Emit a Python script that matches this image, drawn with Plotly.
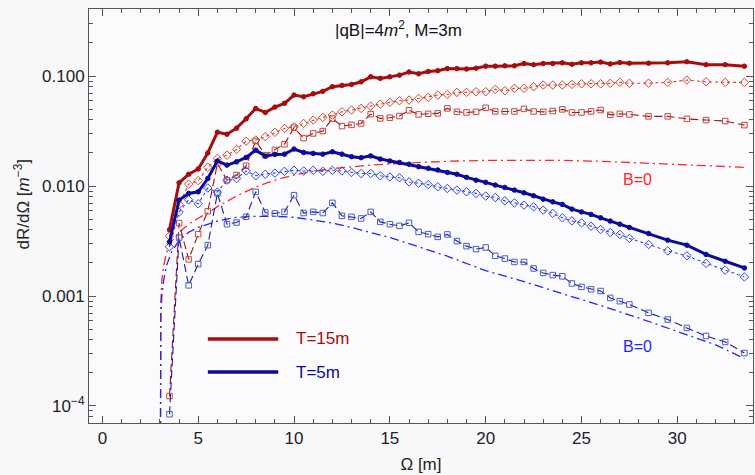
import plotly.graph_objects as go

# ---------------- data ----------------
omega = [3.5, 4.0, 4.5, 5.0, 5.5, 6.0, 6.5, 7.0, 7.5, 8.0, 8.5, 9.0, 9.5, 10.0, 10.5,
         11.0, 11.5, 12.0, 12.5, 13.0, 13.5, 14.0, 14.5, 15.0, 15.5, 16.0, 16.5, 17.0,
         17.5, 18.0, 18.5, 19.0, 19.5, 20.0, 20.5, 21.0, 21.5, 22.0, 22.5, 23.0, 23.5,
         24.0, 24.5, 25.0, 25.5, 26.0, 26.5, 27.0, 27.5, 28.5, 29.5, 30.5, 31.5, 32.5, 33.5]

t15_total = [0.0040, 0.0107, 0.0128, 0.0143, 0.0200, 0.0309, 0.0296, 0.0336, 0.0409, 0.0508,
             0.0467, 0.0522, 0.0565, 0.0672, 0.0648, 0.0690, 0.0726, 0.0800, 0.0823, 0.0840,
             0.0887, 0.0985, 0.0953, 0.0985, 0.102, 0.109, 0.105, 0.110, 0.112, 0.117,
             0.117, 0.116, 0.118, 0.123, 0.123, 0.124, 0.124, 0.130, 0.127, 0.130,
             0.130, 0.132, 0.128, 0.132, 0.132, 0.134, 0.129, 0.133, 0.131,
             0.131, 0.132, 0.135, 0.127, 0.127, 0.123]
t15_diam = [0.0035, 0.0068, 0.0104, 0.0112, 0.0148, 0.0178, 0.0191, 0.0215, 0.0256, 0.0262,
            0.0281, 0.0308, 0.0334, 0.0346, 0.0371, 0.0398, 0.0421, 0.0442, 0.0473, 0.0491,
            0.0508, 0.0533, 0.0556, 0.0577, 0.0596, 0.0605, 0.0627, 0.0640, 0.0672, 0.0681,
            0.0711, 0.0711, 0.0720, 0.0720, 0.0757, 0.0735, 0.0773, 0.0773, 0.0799, 0.0828,
            0.0828, 0.0828, 0.0840, 0.0851, 0.0851, 0.0851, 0.0859, 0.0877, 0.0859,
            0.0863, 0.0877, 0.0920, 0.0888, 0.0877, 0.0877]
t15_sq = [0.000123, 0.0046, 0.00215, 0.00365, 0.0059, 0.0160, 0.0113, 0.0126, 0.0153, 0.0257,
          0.0191, 0.0213, 0.0240, 0.0339, 0.0273, 0.0301, 0.0316, 0.0410, 0.0351, 0.0360,
          0.0371, 0.0451, 0.0412, 0.0418, 0.0433, 0.0488, 0.0448, 0.0454, 0.0458, 0.0508,
          0.0473, 0.0467, 0.0473, 0.0515, 0.0477, 0.0477, 0.0477, 0.0503, 0.0477, 0.0473,
          0.0481, 0.0498, 0.0467, 0.0467, 0.0477, 0.0491, 0.0444, 0.0454, 0.0448,
          0.0430, 0.0430, 0.0408, 0.0398, 0.0390, 0.0358]
t5_total = [0.0031, 0.00745, 0.00857, 0.00886, 0.0117, 0.0169, 0.0155, 0.0166, 0.0182, 0.0212,
            0.0187, 0.0194, 0.0195, 0.0217, 0.0202, 0.0198, 0.0195, 0.0205, 0.0195, 0.0185,
            0.0181, 0.0188, 0.0176, 0.0169, 0.0164, 0.0158, 0.0150, 0.0145, 0.0140, 0.0133,
            0.0128, 0.0120, 0.0113, 0.0108, 0.0102, 0.00971, 0.00918, 0.00868, 0.00815, 0.00760,
            0.00718, 0.00680, 0.00617, 0.00582, 0.00552, 0.00514, 0.00480, 0.00450, 0.00420,
            0.00370, 0.00322, 0.00290, 0.00239, 0.00207, 0.00180]
t5_diam = [0.0028, 0.0058, 0.0075, 0.0069, 0.0096, 0.0088, 0.0113, 0.0117, 0.0137, 0.0124,
           0.0128, 0.0131, 0.0136, 0.0139, 0.0137, 0.0139, 0.0136, 0.0139, 0.0137, 0.0133,
           0.0130, 0.0130, 0.0124, 0.0121, 0.0119, 0.0109, 0.0106, 0.0103, 0.00984, 0.00951,
           0.00918, 0.00886, 0.00857, 0.00810, 0.00787, 0.00733, 0.00703, 0.00670, 0.00647, 0.00604,
           0.00564, 0.00514, 0.00482, 0.00462, 0.00431, 0.00402, 0.00378, 0.00363, 0.00334,
           0.00294, 0.00257, 0.00232, 0.00198, 0.00172, 0.00149]
t5_sq = [0.000084, 0.0034, 0.00125, 0.00195, 0.0029, 0.00857, 0.0045, 0.00466, 0.00525, 0.00886,
         0.00575, 0.00563, 0.00582, 0.00826, 0.00568, 0.00582, 0.00568, 0.00703, 0.00536, 0.00525,
         0.00507, 0.00582, 0.00472, 0.00450, 0.00434, 0.00463, 0.00383, 0.00365, 0.00345, 0.00363,
         0.00316, 0.00284, 0.00267, 0.00276, 0.00232, 0.00219, 0.00204, 0.00204, 0.00178, 0.00162,
         0.00155, 0.00151, 0.00130, 0.00121, 0.00115, 0.00111, 0.000961, 0.000897, 0.000837,
         0.000702, 0.000611, 0.000512, 0.000433, 0.000382, 0.000303]

omega_b0 = [3.0, 3.02, 3.05, 3.1, 3.2, 3.35, 3.6, 4.0, 4.5, 5.0, 5.5, 6, 7, 8, 9, 10, 11, 12,
            13, 14, 15, 16, 18, 20, 22, 24, 26, 28, 30, 32, 33.5]
t15_b0 = [1e-6, 3e-4, 0.0009, 0.0014, 0.0019, 0.0025, 0.0031, 0.0038, 0.0045, 0.0051, 0.0057,
          0.0065, 0.0081, 0.0098, 0.0113, 0.0126, 0.0136, 0.0144, 0.0150, 0.0155, 0.0159, 0.0162,
          0.0168, 0.0171, 0.0172, 0.0171, 0.0168, 0.0163, 0.0158, 0.0153, 0.0148]
t5_b0 = [1e-6, 2.5e-4, 0.0007, 0.0010, 0.0014, 0.0019, 0.0025, 0.0032, 0.0038, 0.0042, 0.0045,
         0.0048, 0.0052, 0.0053, 0.0053, 0.0052, 0.0049, 0.0046, 0.0042, 0.0038, 0.0034, 0.0030,
         0.0023, 0.0017, 0.00135, 0.00105, 0.00082, 0.00063, 0.00048, 0.00036, 0.00027]

x_ticks = [0, 5, 10, 15, 20, 25, 30]
y_ticks = [1e-4, 1e-3, 1e-2, 1e-1]
y_ticktext = ["10<sup>\u22124</sup>", "0.001", "0.010", "0.100"]
legend_labels = ["T=15m", "T=5m"]

# ---------------- styles ----------------
DARK_RED = "#a50e0e"
RED_DIAM = "#cc4a30"
RED_SQ = "#c24a3c"
RED_SQ_LINE = "#9c1414"
RED_B0 = "#ff2626"
DARK_BLUE = "#0a0a9c"
BLUE_DIAM = "#3048dc"
BLUE_SQ = "#4a5ec4"
BLUE_SQ_LINE = "#1a1aa4"
BLUE_B0 = "#1e28f5"
AX = "#555555"
FONT = "Liberation Sans, Arial, sans-serif"

fig = go.Figure()

def add(x, y, color, width, dash, symbol=None, msize=0, mcolor=None, mwidth=1.0):
    mode = "lines+markers" if symbol else "lines"
    fig.add_trace(go.Scatter(
        x=x, y=y, mode=mode, showlegend=False, hoverinfo="skip",
        line=dict(color=color, width=width, dash=dash),
        marker=dict(symbol=symbol or "circle", size=msize,
                    color=mcolor or color,
                    line=dict(color=mcolor or color, width=mwidth)),
    ))

# B=0 dash-dot curves
add(omega_b0, t15_b0, RED_B0, 1.3, "9px,4px,2px,4px")
add(omega_b0, t5_b0, BLUE_B0, 1.3, "9px,4px,2px,4px")
# squares (dashed)
add(omega, t15_sq, RED_SQ_LINE, 1.1, "8px,4px", "square-open", 5.5, RED_SQ, 1.0)
add(omega, t5_sq, BLUE_SQ_LINE, 1.1, "8px,4px", "square-open", 5.5, BLUE_SQ, 1.0)
# diamonds (dotted)
add(omega, t15_diam, RED_DIAM, 1.1, "dot", "diamond-open", 6.5, RED_DIAM, 1.0)
add(omega, t5_diam, BLUE_DIAM, 1.1, "dot", "diamond-open", 6.5, BLUE_DIAM, 1.0)
# totals (thick solid)
add(omega, t15_total, DARK_RED, 3.0, "solid", "circle", 4.5, DARK_RED)
add(omega, t5_total, DARK_BLUE, 3.0, "solid", "circle", 4.5, DARK_BLUE)

minor_y = [m * 10 ** e for e in range(-5, 0) for m in range(2, 10)]

fig.update_layout(
    width=755, height=475,
    margin=dict(l=89, r=2, t=9, b=52),
    paper_bgcolor="#f8f8fb", plot_bgcolor="#fbfbfd",
    font=dict(family=FONT, size=17, color="#222222"),
    xaxis=dict(
        range=[-0.7, 33.95], tickvals=x_ticks, ticks="inside", ticklen=7, tickwidth=1,
        tickcolor=AX, showline=True, linecolor=AX, linewidth=1, mirror="allticks",
        showgrid=False, zeroline=False, tickfont=dict(size=17, color="#222222"),
        minor=dict(ticks="inside", ticklen=4, dtick=1, tick0=0, tickcolor=AX, showgrid=False),
        title=dict(text="\u03a9 [m]", font=dict(size=17), standoff=10),
    ),
    yaxis=dict(
        type="log", range=[-4.155, -0.39], tickvals=y_ticks, ticktext=y_ticktext,
        ticks="inside", ticklen=7, tickwidth=1, tickcolor=AX, showline=True, linecolor=AX,
        linewidth=1, mirror="allticks", showgrid=False, zeroline=False,
        tickfont=dict(size=17, color="#222222"),
        minor=dict(ticks="inside", ticklen=4, tickvals=minor_y, tickcolor=AX, showgrid=False),
    ),
)

# y axis title
fig.add_annotation(text="dR/d\u03a9 [<i>m</i><sup>\u22123</sup>]", xref="paper", yref="paper",
                   x=-0.101, y=0.53, textangle=-90, showarrow=False,
                   font=dict(size=17, color="#222222"), xanchor="center", yanchor="middle")
# title inside plot
fig.add_annotation(text="|qB|=4<i>m</i><sup>2</sup>, M=3m", xref="paper", yref="paper",
                   x=0.466, y=0.952, showarrow=False, font=dict(size=17, color="#111111"),
                   xanchor="center", yanchor="middle")
# B=0 labels
fig.add_annotation(text="B=0", xref="paper", yref="paper", x=0.826, y=0.587, showarrow=False,
                   font=dict(size=16, color=RED_B0), xanchor="center", yanchor="middle")
fig.add_annotation(text="B=0", xref="paper", yref="paper", x=0.826, y=0.184, showarrow=False,
                   font=dict(size=16, color=BLUE_B0), xanchor="center", yanchor="middle")

# legend (drawn manually)
for label, color, yp in [(legend_labels[0], DARK_RED, 0.203), (legend_labels[1], DARK_BLUE, 0.123)]:
    fig.add_shape(type="line", xref="paper", yref="paper", x0=0.179, x1=0.285, y0=yp, y1=yp,
                  line=dict(color=color, width=3.5))
    fig.add_annotation(text=label, xref="paper", yref="paper", x=0.308, y=yp, showarrow=False,
                       font=dict(size=17, color=color), xanchor="left", yanchor="middle")

fig.write_html("out.html")
